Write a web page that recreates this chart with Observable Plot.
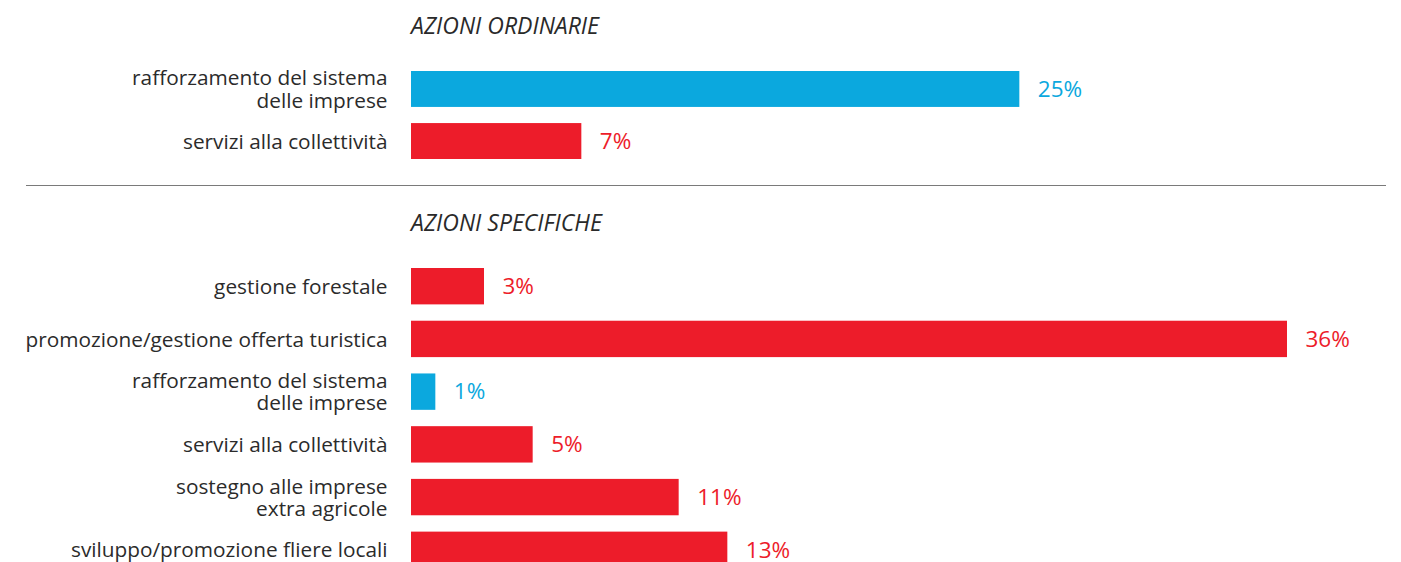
<!DOCTYPE html>
<html>
<head>
<meta charset="utf-8">
<script src="https://cdn.jsdelivr.net/npm/d3@7"></script>
<script src="https://cdn.jsdelivr.net/npm/@observablehq/plot@0.6"></script>
<style>
  html, body { margin: 0; padding: 0; background: #fff; overflow: hidden; }
  body { width: 1401px; font-family: "Open Sans", Lato, sans-serif; }
  .title { padding-left: 411px; font-style: italic; font-size: 23px; color: #2a2a2a; }
  #t1 { height: 50px; line-height: 50px; }
  #t2 { height: 72px; line-height: 72px; }
  .sep { margin-left: 26px; width: 1360px; height: 0; border-top: 1.5px solid #7a7a7a; }
  svg { display: block; }
</style>
</head>
<body>
<div class="title" id="t1"></div>
<div id="c1"></div>
<div class="sep"></div>
<div class="title" id="t2"></div>
<div id="c2"></div>
<script>
const sectionTitles = ["AZIONI ORDINARIE", "AZIONI SPECIFICHE"];

const ordCategories = ["rafforzamento del sistema\ndelle imprese", "servizi alla collettività"];
const ordValues = [25, 7];
const ordTypes = ["imprese", "altro"];

const speCategories = [
  "gestione forestale",
  "promozione/gestione offerta turistica",
  "rafforzamento del sistema\ndelle imprese",
  "servizi alla collettività",
  "sostegno alle imprese\nextra agricole",
  "sviluppo/promozione fliere locali"
];
const speValues = [3, 36, 1, 5, 11, 13];
const speTypes = ["altro", "altro", "imprese", "altro", "altro", "altro"];

const colorDomain = ["imprese", "altro"];
const colorRange = ["#0ba8de", "#ed1c2a"];

document.getElementById("t1").textContent = sectionTitles[0];
document.getElementById("t2").textContent = sectionTitles[1];

function chart(cats, vals, types, height, marginTop, marginBottom) {
  const data = cats.map((c, i) => ({cat: c, value: vals[i], type: types[i]}));
  return Plot.plot({
    width: 1401,
    height,
    marginLeft: 411,
    marginRight: 114,
    marginTop,
    marginBottom,
    style: {fontFamily: "'Open Sans', Lato, sans-serif", background: "#fff"},
    x: {domain: [0, 36], axis: null},
    y: {domain: cats, paddingInner: 0.31, paddingOuter: 0, round: false, label: null},
    color: {domain: colorDomain, range: colorRange},
    marks: [
      Plot.axisY({tickSize: 0, tickPadding: 24, fontSize: 20.8, lineHeight: 1.07, fill: "#2b2b2b", label: null}),
      Plot.barX(data, {y: "cat", x: "value", fill: "type"}),
      Plot.text(data, {y: "cat", x: "value", text: d => d.value + "%", fill: "type", textAnchor: "start", dx: 18, fontSize: 22.5})
    ]
  });
}

document.getElementById("c1").append(chart(ordCategories, ordValues, ordTypes, 135, 21, 26));
document.getElementById("c2").append(chart(speCategories, speValues, speTypes, 330, 10, 20));
</script>
</body>
</html>
